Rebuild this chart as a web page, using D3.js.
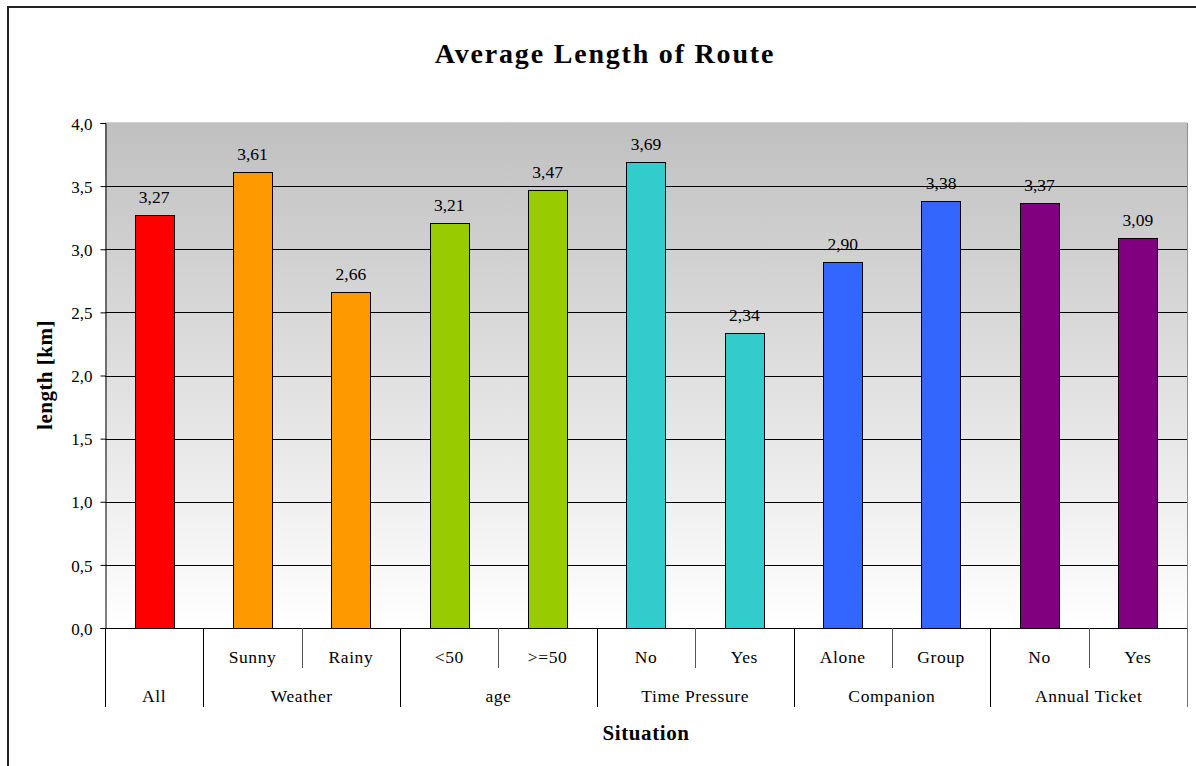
<!DOCTYPE html>
<html>
<head>
<meta charset="utf-8">
<script src="https://cdn.jsdelivr.net/npm/d3@7"></script>
<style>
  html, body { margin: 0; padding: 0; background: #fff; }
  svg { display: block; }
  text { font-family: "Liberation Serif", "Times New Roman", serif; fill: #000; }
</style>
</head>
<body>
<svg id="chart" width="1196" height="766"></svg>
<script>
// ---- data ----
const subLabels = ["", "Sunny", "Rainy", "<50", ">=50", "No", "Yes", "Alone", "Group", "No", "Yes"];
const values = [3.27, 3.61, 2.66, 3.21, 3.47, 3.69, 2.34, 2.90, 3.38, 3.37, 3.09];
const barColors = ["#ff0000", "#ff9900", "#ff9900", "#99cc00", "#99cc00", "#33cccc", "#33cccc", "#3366ff", "#3366ff", "#800080", "#800080"];
const groupNames = ["All", "Weather", "age", "Time Pressure", "Companion", "Annual Ticket"];
const groupSizes = [1, 2, 2, 2, 2, 2];
const yTicks = [0, 0.5, 1.0, 1.5, 2.0, 2.5, 3.0, 3.5, 4.0];

const svg = d3.select("#chart");
const L = 105, R = 1187, T = 123, B = 628;
const fmt = v => d3.format(".2f")(v).replace(".", ",");
const fmtTick = v => d3.format(".1f")(v).replace(".", ",");

const idx = d3.range(values.length);
const x = d3.scaleBand().domain(idx).range([L, R]).paddingInner(0.6).paddingOuter(0.3);
const y = d3.scaleLinear().domain([0, 4]).range([B, T]);
const step = x.step();
const catLeft = i => x(i) - x.paddingOuter() * step;

// outer frame
svg.append("rect").attr("x", 8).attr("y", 7).attr("width", 1300).attr("height", 900)
  .attr("fill", "none").attr("stroke", "#222").attr("stroke-width", 2);

// gradient plot area
const defs = svg.append("defs");
const grad = defs.append("linearGradient").attr("id", "bg").attr("x1", 0).attr("y1", 0).attr("x2", 0).attr("y2", 1);
grad.append("stop").attr("offset", "0%").attr("stop-color", "#c0c0c0");
grad.append("stop").attr("offset", "100%").attr("stop-color", "#ffffff");
svg.append("rect").attr("x", L).attr("y", T).attr("width", R - L).attr("height", B - T).attr("fill", "url(#bg)");
svg.append("line").attr("x1", L).attr("x2", R).attr("y1", T - 0.5).attr("y2", T - 0.5).attr("stroke", "#d0d0d0");
svg.append("line").attr("x1", R + 0.5).attr("x2", R + 0.5).attr("y1", T).attr("y2", B).attr("stroke", "#909090");

// gridlines
svg.append("g").selectAll("line").data(yTicks.filter(t => t > 0 && t < 4)).join("line")
  .attr("x1", L).attr("x2", R)
  .attr("y1", d => Math.round(y(d)) + 0.5).attr("y2", d => Math.round(y(d)) + 0.5)
  .attr("stroke", "#000").attr("stroke-width", 1);

// y axis
const yAxis = d3.axisLeft(y).tickValues(yTicks).tickFormat(fmtTick).tickSize(5).tickPadding(8);
const gy = svg.append("g").attr("transform", `translate(${L + 0.5},0)`).call(yAxis);
gy.select(".domain").attr("stroke", "#000");
gy.selectAll(".tick line").attr("stroke", "#000");
gy.selectAll(".tick text").style("font-size", "17px").attr("fill", "#000").attr("dy", "0.36em");

// bars
svg.append("g").selectAll("rect").data(idx).join("rect")
  .attr("x", i => Math.round(x(i)) + 0.5)
  .attr("y", i => Math.round(y(values[i])) + 0.5)
  .attr("width", Math.round(x.bandwidth()))
  .attr("height", i => Math.round(y(0)) - Math.round(y(values[i])))
  .attr("fill", i => barColors[i])
  .attr("stroke", "#000").attr("stroke-width", 1);

// value labels
svg.append("g").selectAll("text").data(idx).join("text")
  .attr("x", i => x(i) + x.bandwidth() / 2)
  .attr("y", i => y(values[i]) - 12)
  .attr("text-anchor", "middle").style("font-size", "17.5px")
  .text(i => fmt(values[i]));

// x axis baseline
svg.append("line").attr("x1", L).attr("x2", R + 1).attr("y1", B + 0.5).attr("y2", B + 0.5).attr("stroke", "#000");

// category separators
const groupStarts = [];
let acc = 0;
groupSizes.forEach(s => { groupStarts.push(acc); acc += s; });
const boundaries = d3.range(values.length + 1);
const isGroupEdge = b => groupStarts.includes(b) || b === values.length;
svg.append("g").selectAll("line").data(boundaries).join("line")
  .attr("x1", b => Math.round(b < values.length ? catLeft(b) : R) + 0.5)
  .attr("x2", b => Math.round(b < values.length ? catLeft(b) : R) + 0.5)
  .attr("y1", B)
  .attr("y2", b => isGroupEdge(b) ? 707 : 668)
  .attr("stroke", b => isGroupEdge(b) ? (b === values.length ? "#707070" : "#000") : "#555");

// sub labels
svg.append("g").selectAll("text").data(idx).join("text")
  .attr("x", i => x(i) + x.bandwidth() / 2)
  .attr("y", 663)
  .attr("text-anchor", "middle").style("font-size", "17.5px").style("letter-spacing", "0.6px")
  .text(i => subLabels[i]);

// group labels
svg.append("g").selectAll("text").data(groupNames).join("text")
  .attr("x", (d, gi) => {
    const s = groupStarts[gi], e = s + groupSizes[gi];
    const xl = catLeft(s), xr = e < values.length ? catLeft(e) : R;
    return (xl + xr) / 2;
  })
  .attr("y", 702)
  .attr("text-anchor", "middle").style("font-size", "17.5px").style("letter-spacing", "0.6px")
  .text(d => d);

// title & axis titles
svg.append("text").attr("x", 605).attr("y", 63).attr("text-anchor", "middle")
  .style("font-size", "28px").style("letter-spacing", "1.8px").attr("font-weight", "bold").text("Average Length of Route");
svg.append("text").attr("transform", "translate(52,375) rotate(-90)").attr("text-anchor", "middle")
  .style("font-size", "21px").style("letter-spacing", "0.5px").attr("font-weight", "bold").text("length [km]");
svg.append("text").attr("x", (L + R) / 2).attr("y", 740).attr("text-anchor", "middle")
  .style("font-size", "21px").style("letter-spacing", "0.6px").attr("font-weight", "bold").text("Situation");
</script>
</body>
</html>
